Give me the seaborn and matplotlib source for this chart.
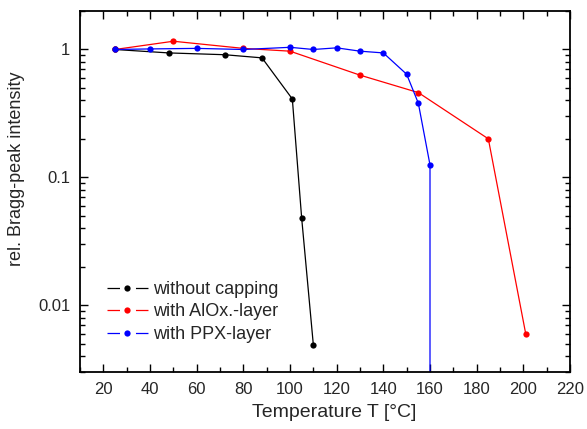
import numpy as np
import pandas as pd
import matplotlib
matplotlib.use("Agg")
import matplotlib.pyplot as plt
from matplotlib.ticker import FixedLocator, FixedFormatter, LogLocator, MultipleLocator, NullFormatter
import seaborn as sns

# data
t_none = [25, 48, 72, 88, 101, 105, 110]
i_none = [1.0, 0.94, 0.91, 0.86, 0.41, 0.048, 0.0049]

t_alox = [25, 50, 80, 100, 130, 155, 185, 201]
i_alox = [1.0, 1.16, 1.02, 0.97, 0.63, 0.46, 0.20, 0.006]

t_ppx = [25, 40, 60, 80, 100, 110, 120, 130, 140, 150, 155, 160, 160]
i_ppx = [1.0, 1.01, 1.02, 1.0, 1.04, 1.0, 1.03, 0.97, 0.94, 0.64, 0.38, 0.125, 1e-6]

labels = ["without capping", "with AlOx.-layer", "with PPX-layer"]
colors = ["black", "#ff0000", "#0000ff"]


def main():
    sns.set_style("ticks")
    plt.rcParams["font.family"] = ["Liberation Sans", "DejaVu Sans"]
    plt.rcParams["lines.scale_dashes"] = False

    fig = plt.figure(figsize=(5.87, 4.29), dpi=100)
    ax = fig.add_axes([80 / 587, 1 - 372 / 429, 490 / 587, 361 / 429])
    ax.set_yscale("log")

    series = [(t_none, i_none), (t_alox, i_alox), (t_ppx, i_ppx)]
    for (t, i), lab, c in zip(series, labels, colors):
        df = pd.DataFrame({"T": t, "I": i})
        sns.lineplot(data=df, x="T", y="I", sort=False, estimator=None, ax=ax,
                     color=c, lw=0.9, marker="o", markersize=4.5,
                     markeredgewidth=0, label=lab)

    ax.set_xlim(10, 220)
    ax.set_ylim(0.003, 2)
    ax.xaxis.set_major_locator(MultipleLocator(20))
    ax.xaxis.set_minor_locator(MultipleLocator(10))
    ax.yaxis.set_major_locator(FixedLocator([0.01, 0.1, 1]))
    ax.yaxis.set_major_formatter(FixedFormatter(["0.01", "0.1", "1"]))
    ax.yaxis.set_minor_locator(LogLocator(base=10, subs=np.arange(2, 10)))
    ax.yaxis.set_minor_formatter(NullFormatter())

    ax.tick_params(which="both", direction="in", top=True, right=True,
                   labelsize=12, color="black", width=1.0)
    ax.tick_params(which="major", length=6, pad=7)
    ax.tick_params(which="minor", length=3.5)
    for s in ax.spines.values():
        s.set_linewidth(1.3)
        s.set_color("black")

    ax.set_xlabel("Temperature T [°C]", fontsize=14)
    ax.set_ylabel("rel. Bragg-peak intensity", fontsize=13)
    ax.xaxis.set_label_coords(0.518, -0.09)
    ax.yaxis.set_label_coords(-0.112, 0.562)

    leg = ax.legend(loc="upper left", bbox_to_anchor=(0.055, 0.252), frameon=False,
                    fontsize=13, handlelength=2.27, handletextpad=0.28,
                    labelspacing=0.3, borderaxespad=0, borderpad=0)
    for h in leg.legend_handles:
        h.set_linestyle((0, (9.0, 11.5, 9.0, 11.5)))

    fig.savefig("out.png", dpi=100)


if __name__ == "__main__":
    main()
